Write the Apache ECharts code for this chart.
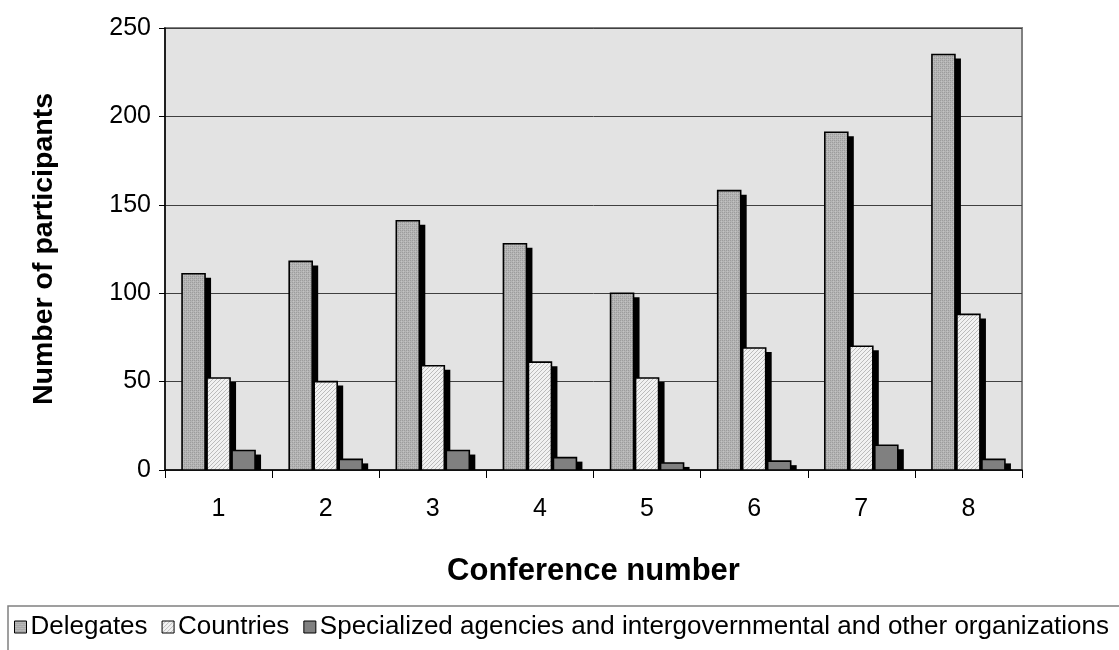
<!DOCTYPE html>
<html>
<head>
<meta charset="utf-8">
<script src="https://cdn.jsdelivr.net/npm/echarts@6/dist/echarts.min.js"></script>
<style>html,body{margin:0;padding:0;background:#fff;}#c{width:1119px;height:650px;}</style>
</head>
<body>
<div id="c"></div>
<script>
var categories = ['1','2','3','4','5','6','7','8'];
var delegates = [111, 118, 141, 128, 100, 158, 191, 235];
var countries = [52, 50, 59, 61, 52, 69, 70, 88];
var agencies = [11, 6, 11, 7, 4, 5, 14, 6];
var seriesNames = ['Delegates', 'Countries', 'Specialized agencies and intergovernmental and other organizations'];
var yTicks = [0, 50, 100, 150, 200, 250];

function stipple() {
  var c = document.createElement('canvas'); c.width = 4; c.height = 4;
  var g = c.getContext('2d');
  g.fillStyle = '#b4b4b4'; g.fillRect(0,0,4,4);
  g.fillStyle = '#9c9c9c';
  g.fillRect(0,0,1,1); g.fillRect(2,2,1,1); g.fillRect(2,0,1,1); g.fillRect(0,2,1,1);
  g.fillStyle = '#c2c2c2';
  g.fillRect(1,1,1,1); g.fillRect(3,3,1,1);
  return c;
}
function hatch() {
  var c = document.createElement('canvas'); c.width = 4; c.height = 4;
  var g = c.getContext('2d');
  g.fillStyle = '#f2f2f2'; g.fillRect(0,0,4,4);
  g.fillStyle = '#bcbcbc';
  g.fillRect(3,0,1,1); g.fillRect(2,1,1,1); g.fillRect(1,2,1,1); g.fillRect(0,3,1,1);
  return c;
}
var fills = [
  {image: stipple(), repeat: 'repeat'},
  {image: hatch(), repeat: 'repeat'},
  '#808080'
];
var font = 'Liberation Sans, Arial, sans-serif';
var BW = 23, GAP = 2, SHX = 6, SHY = 4;

function mk(i, values) {
  var data = values.map(function (v, k) { return [k, v]; });
  return {
    name: seriesNames[i], type: 'custom', data: data,
    encode: {x: 0, y: 1}, clip: true,
    itemStyle: {color: fills[i], borderColor: '#000', borderWidth: 1},
    renderItem: function (params, api) {
      var top = api.coord([api.value(0), api.value(1)]);
      var base = api.coord([api.value(0), 0]);
      var groupW = 3 * BW + 2 * GAP;
      var left = top[0] - groupW / 2 + i * (BW + GAP);
      var h = base[1] - top[1];
      return {
        type: 'group',
        children: [
          {type: 'rect', shape: {x: left + SHX, y: top[1] + SHY, width: BW, height: Math.max(0, h - SHY)},
           style: {fill: '#000'}},
          {type: 'rect', shape: {x: left, y: top[1], width: BW, height: h},
           style: {fill: fills[i], stroke: '#000', lineWidth: 1.6}}
        ]
      };
    },
    animation: false
  };
}

var chart = echarts.init(document.getElementById('c'));
chart.setOption({
  animation: false,
  backgroundColor: '#fff',
  grid: {left: 165, right: 97, top: 28, bottom: 180, show: true,
         backgroundColor: '#e3e3e3', borderColor: '#808080', borderWidth: 2},
  legend: {
    left: 8, top: 606, width: 1400, orient: 'horizontal',
    data: seriesNames,
    icon: 'rect', itemWidth: 12, itemHeight: 12, itemGap: 14,
    padding: [8, 200, 20, 6],
    borderColor: '#808080', borderWidth: 1.5, backgroundColor: '#fff',
    textStyle: {fontFamily: font, fontSize: 26, color: '#000', padding: [0,0,0,-1]},
    itemStyle: {borderColor: '#000', borderWidth: 1}
  },
  xAxis: {
    type: 'category', data: categories,
    name: 'Conference number', nameLocation: 'middle', nameGap: 86,
    nameTextStyle: {fontFamily: font, fontSize: 31, fontWeight: 'bold', color: '#000'},
    axisLine: {lineStyle: {color: '#000', width: 1.5}},
    axisTick: {show: true, length: 8, lineStyle: {color: '#000'}},
    axisLabel: {fontFamily: font, fontSize: 25, color: '#000', margin: 27}
  },
  yAxis: {
    type: 'value', min: yTicks[0], max: yTicks[yTicks.length-1], interval: 50,
    name: 'Number of participants', nameLocation: 'middle', nameGap: 106,
    nameTextStyle: {fontFamily: font, fontSize: 28.5, fontWeight: 'bold', color: '#000'},
    axisLine: {show: true, lineStyle: {color: '#000', width: 1.5}},
    axisTick: {show: true, length: 6, lineStyle: {color: '#000'}},
    axisLabel: {fontFamily: font, fontSize: 25, color: '#000', margin: 14},
    splitLine: {show: true, lineStyle: {color: '#404040', width: 1}}
  },
  series: [mk(0, delegates), mk(1, countries), mk(2, agencies)]
});
</script>
</body>
</html>
